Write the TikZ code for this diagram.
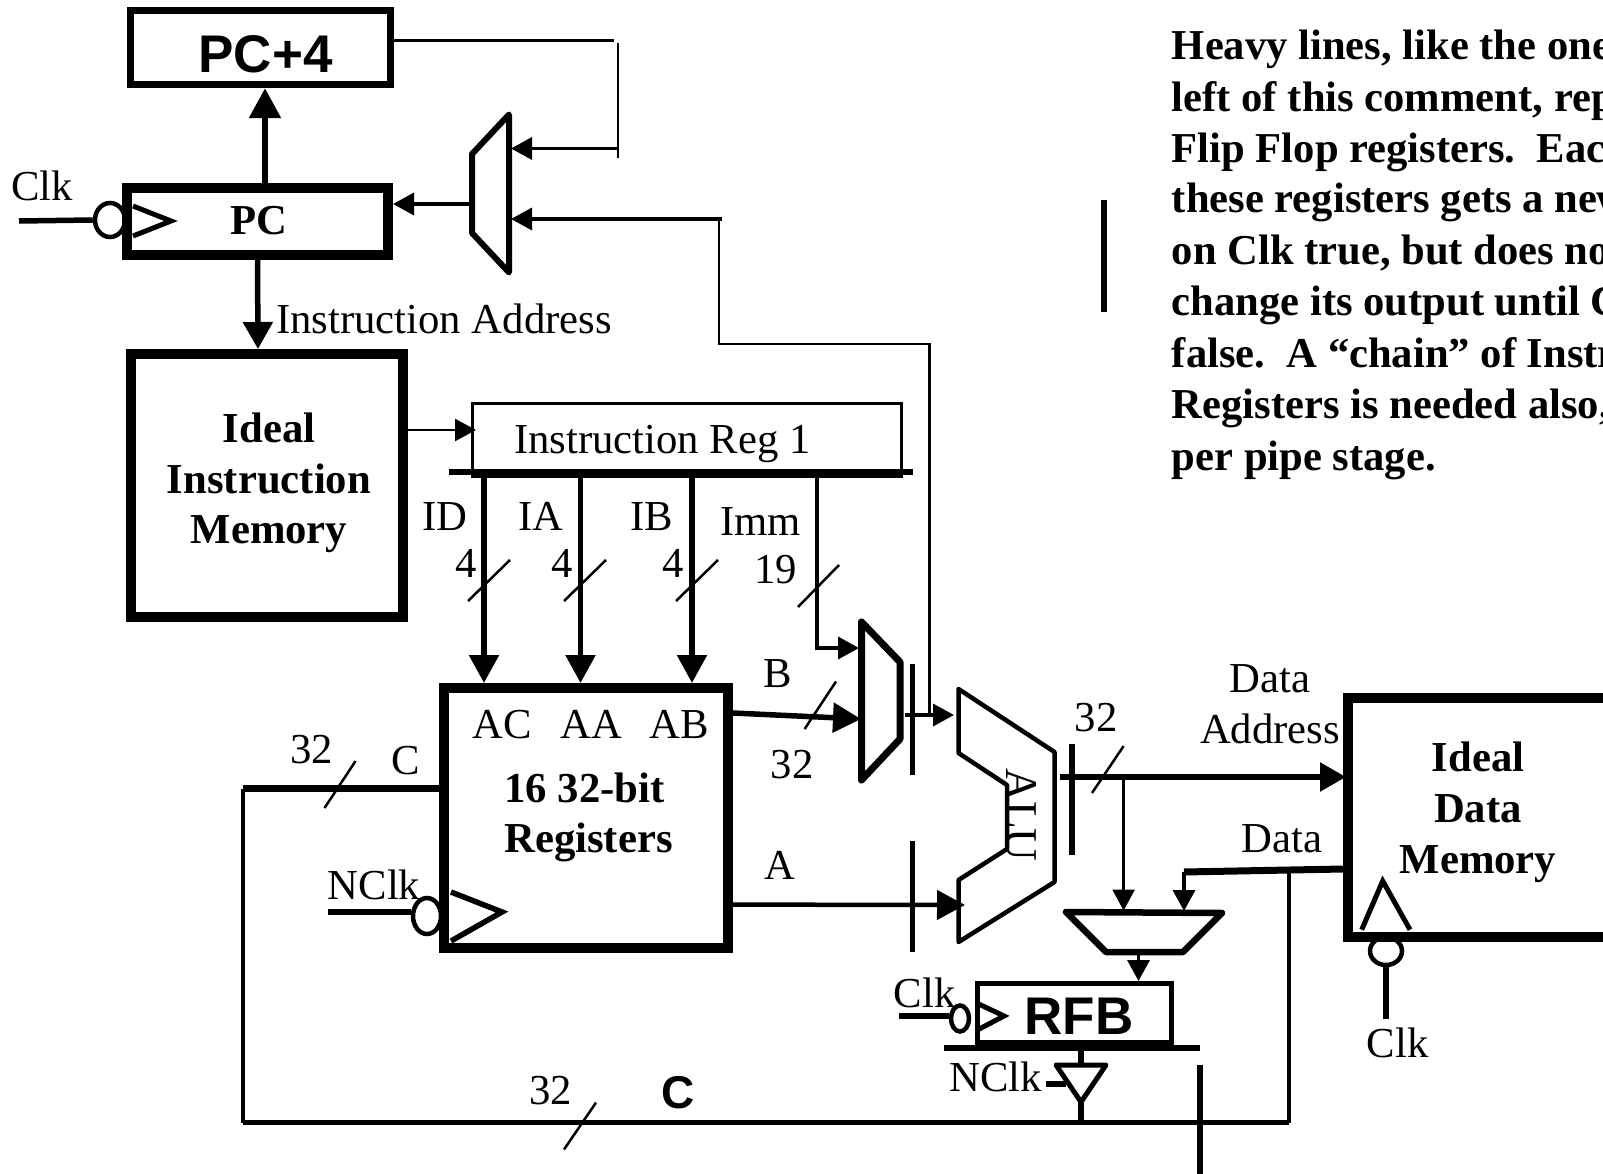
\documentclass[tikz,border=0pt]{standalone}
\usepackage{fontspec}
\setmainfont{Liberation Serif}
\newfontfamily\arialfont{Liberation Sans}
\usetikzlibrary{arrows.meta,shapes.geometric}
\tikzset{
  box/.style={draw,rectangle,inner sep=0pt,outer sep=auto},
  bubble/.style={draw,ellipse,inner sep=0pt,line width=4.5pt},
  lab/.style={anchor=base,inner sep=0pt,font=\fontsize{42.7}{51}\selectfont},
  labl/.style={anchor=base west,inner sep=0pt,font=\fontsize{42.7}{51}\selectfont},
  blab/.style={anchor=base,inner sep=0pt,font=\fontsize{42.7}{51}\selectfont\bfseries},
  note/.style={anchor=base west,inner sep=0pt,font=\fontsize{42.6}{51}\selectfont\bfseries},
  alab/.style={anchor=base,inner sep=0pt,font=\fontsize{53}{60}\selectfont\arialfont\bfseries},
  wthin/.style={line width=2.5pt},
  wmed/.style={line width=3.5pt},
  wthick/.style={line width=5.5pt},
  slash/.style={line width=2.5pt},
  shape outline/.style={line join=round,line cap=round},
  tipS/.style={-{Triangle[length=21pt,width=22pt]}},
  tipL/.style={-{Triangle[length=28pt,width=29pt]}},
}
\begin{document}
\begin{tikzpicture}[x=1pt,y=-1pt]
\clip (0,0) rectangle (1603,1174);
% --- bubbles (beneath the boxes)
\node[bubble,minimum width=30pt,minimum height=34pt] (pcbub) at (110,220) {};
\node[bubble,minimum width=28pt,minimum height=36pt] (regbub) at (427,916) {};
\node[bubble,minimum width=18pt,minimum height=26pt] (rfbbub) at (960,1018.5) {};
\node[bubble,minimum width=32pt,minimum height=28pt] (dmbub) at (1386,951) {};
% --- boxes
\node[box,line width=7pt,minimum width=260pt,minimum height=74.5pt] (pcplus) at (260.5,47.5) {};
\node[box,line width=10pt,minimum width=261pt,minimum height=67pt] (pc) at (257.5,221.5) {};
\node[box,line width=10pt,minimum width=272pt,minimum height=263pt] (imem) at (267,485.5) {};
\node[box,line width=2.5pt,minimum width=429pt,minimum height=73pt] (ireg) at (687,440) {};
\node[box,line width=10pt,minimum width=284pt,minimum height=260pt] (regs) at (586,818) {};
\node[box,line width=10pt,minimum width=400pt,minimum height=239.5pt] (dmem) at (1548,817.25) {};
\node[box,line width=5pt,minimum width=194pt,minimum height=59pt] (rfb) at (1074,1013) {};
% --- muxes and ALU
\draw[shape outline,line width=6pt] (509,114.5) -- (472,154) -- (472,233) -- (509,272.5) -- cycle;
\draw[shape outline,line width=7pt] (861.5,622) -- (900,662) -- (900,739) -- (861.5,780) -- cycle;
\draw[shape outline,line width=6.5pt] (1066,912) -- (1222,913) -- (1183,952) -- (1106,952) -- cycle;
\draw[shape outline,line width=4.5pt] (958.5,689) -- (1054.5,752) -- (1054.5,882) -- (958.5,942) -- (958.5,880) -- (1007,849) -- (1007,785) -- (958.5,753) -- cycle;
% --- clock triangles
\draw[line width=5pt,line join=miter] (133,206) -- (171,221) -- (133,236);
\draw[line width=5.5pt,line join=miter] (451,892) -- (502,912) -- (451,941);
\draw[line width=5pt,line join=miter] (976.6,1003) -- (1004,1016) -- (976.6,1030.4);
\draw[line width=5pt,line join=miter] (1361.7,929.7) -- (1382.7,881) -- (1410,929.7);
\draw[line width=5pt,line join=round] (1056,1065) -- (1106,1065) -- (1081,1102) -- cycle;
% --- named points
\coordinate (p4a) at (614,40.5);
\coordinate (p4b) at (618,43);
\coordinate (p4c) at (618,158);
\coordinate (p4d) at (618,148.5);
\coordinate (m1u) at (511,148.5);
\coordinate (m1l) at (511,219);
\coordinate (m1o) at (472,204);
\coordinate (r1) at (722,219);
\coordinate (r2) at (719,219);
\coordinate (r3) at (719,344);
\coordinate (r4) at (929.5,344);
\coordinate (r5) at (929.5,715);
\coordinate (m2o) at (905,715);
\coordinate (alub) at (954,715);
\coordinate (m2b) at (861,719);
\coordinate (alua) at (965,905);
\coordinate (imm0) at (817,472);
\coordinate (imm1) at (817,648);
\coordinate (m2i) at (859,648);
\coordinate (bar1) at (449,472);
\coordinate (bar2) at (913,472);
\coordinate (idtop) at (484,472);
\coordinate (iatop) at (580.5,472);
\coordinate (ibtop) at (692,472);
\coordinate (cl) at (243,788.6);
\coordinate (cb) at (243,1122.5);
\coordinate (cr) at (1289,1122.5);
\coordinate (dj) at (1289,872);
\coordinate (aluo) at (1060,777);
\coordinate (tap) at (1123.6,777);
\coordinate (m3a) at (1123.6,910.6);
\coordinate (d0) at (1184,872);
\coordinate (m3b) at (1184,911);
\coordinate (m3o) at (1138.5,952);
\coordinate (rb1) at (944,1048);
\coordinate (rb2) at (1200,1048);
\coordinate (clk1) at (19,221);
\coordinate (nclk1) at (328,912);
\coordinate (clk2) at (899,1016);
\coordinate (clk3) at (1386,1018.7);
\coordinate (nclk2) at (1046,1084);
\coordinate (nclk2e) at (1066,1084);
\coordinate (rftop) at (1081,1048);
\coordinate (rfbot) at (1081,1065);
\coordinate (rfdn) at (1081,1102);
\coordinate (rfj) at (1081,1122.5);
% --- connectors
\draw[wthin] (pcplus.east |- p4a) -- (p4a);
\draw[wthin] (p4b) -- (p4c);
\draw[wmed,tipS] (p4d) -- (m1u);
\draw[wmed,tipS] (m1o) -- (pc.east |- m1o);
\draw[wmed,tipS] (r1) -- (m1l);
\draw[wthin,line join=miter] (r2) -- (r3) -- (r4) -- (r5);
\draw[line width=5.5pt,-{Triangle[length=30pt,width=31pt]}] ([xshift=7.5pt]pc.north) -- ([xshift=4.5pt]pcplus.south);
\draw[line width=5.5pt,-{Triangle[length=27pt,width=29pt]}] (pc.south) -- ([xshift=-9pt]imem.north);
\draw[wthin,tipS] (imem.east |- 0,430) -- (476,430);
\draw[line width=6pt] (bar1) -- (bar2);
\draw[wthick,tipL] (idtop) -- (idtop |- regs.north);
\draw[wthick,tipL] (iatop) -- (iatop |- regs.north);
\draw[wthick,tipL] (ibtop) -- (ibtop |- regs.north);
\draw[wmed,line join=miter,tipS] (imm0) -- (imm1) -- (m2i);
\draw[wthick,tipL] (regs.east |- 0,713) -- (m2b);
\draw[line width=4.5pt,tipL] (regs.east |- 0,904.6) -- (alua);
\draw[wmed,tipS] (m2o) -- (alub);
\draw[line width=4.5pt] (912.6,664) -- (912.6,775);
\draw[line width=4.5pt] (912.6,841) -- (912.6,952);
\draw[line width=7.5pt] (regs.west |- cl) -- (cl);
\draw[line width=4.5pt,line join=miter] (cl) -- (cb);
\draw[wthick,line join=miter] (cb) -- (cr);
\draw[line width=4pt] (cr) -- (dj);
\draw[line width=5.5pt] (clk1) -- (pcbub.west);
\draw[wthick] (nclk1) -- (regbub.west |- nclk1);
\draw[wthick] (clk2) -- (rfbbub.west |- clk2);
\draw[wthick] (clk3) -- (dmbub.south);
\draw[line width=5.5pt,-{Triangle[length=26pt,width=28pt]}] (aluo) -- ([xshift=3pt]dmem.west |- aluo);
\draw[line width=5.5pt] (1072,744) -- (1072,855);
\draw[wthin,tipS] (tap) -- (m3a);
\draw[line width=7pt] (dmem.west |- 0,869) -- (d0);
\draw[wmed,tipS] (d0) -- (m3b);
\draw[wmed,tipS] (m3o) -- (m3o |- rfb.north);
\draw[wthick] (rb1) -- (rb2);
\draw[wthick] (rftop) -- (rfbot);
\draw[wthick] (rfdn) -- (rfj);
\draw[wthick] (nclk2) -- (nclk2e);
\draw[wthick] (1200,1064.5) -- (1200,1174);
\draw[line width=6pt] (1104.3,200) -- (1104.3,311.5);
% --- bus slashes
\draw[slash] (468,601) -- (510,560);
\draw[slash] (564,601) -- (606,560);
\draw[slash] (676,601) -- (718,560);
\draw[slash] (798,607) -- (839,565);
\draw[slash] (804.6,729) -- (836,681.5);
\draw[slash] (324.5,808) -- (355.6,761);
\draw[slash] (564,1149.5) -- (596,1102.6);
\draw[slash] (1092,793) -- (1123.6,746);
% --- labels
\node[alab] (tpc4) at (265.5,73) {PC+4};
\node[blab] (tpc) at (259,235) {PC};
\node[labl] (tclk1) at (11,201) {Clk};
\node[labl] (tia) at (276,333) {Instruction Address};
\node[blab] (tim1) at (269,442) {Ideal};
\node[blab] (tim2) at (269,493) {Instruction};
\node[blab] (tim3) at (269,543.5) {Memory};
\node[labl] (tir) at (514,453) {Instruction Reg 1};
\node[lab] (tid) at (445,530) {ID};
\node[lab] (tiaa) at (541,530) {IA};
\node[lab] (tib) at (652,530) {IB};
\node[labl] (timm) at (720,535) {Imm};
\node[lab] (t4a) at (466,577) {4};
\node[lab] (t4b) at (562.5,577) {4};
\node[lab] (t4c) at (673,577) {4};
\node[lab] (t19) at (775.5,583.5) {19};
\node[lab] (tb) at (777.5,687.5) {B};
\node[lab] (t32b) at (792,778) {32};
\node[lab] (ta) at (780,879) {A};
\node[lab] (tac) at (502,738) {AC};
\node[lab] (taa) at (591,738) {AA};
\node[lab] (tab) at (679.5,738) {AB};
\node[blab] (tr1) at (584.5,802) {16 32-bit};
\node[blab] (tr2) at (588.5,852.5) {Registers};
\node[lab] (t32c) at (311.5,763) {32};
\node[lab] (tc) at (406,774) {C};
\node[labl] (tnclk) at (327.5,899) {NClk};
\node[lab] (t32d) at (550.5,1104) {32};
\node[anchor=base,inner sep=0pt,font=\fontsize{46}{50}\selectfont\arialfont\bfseries] (tcc) at (678,1108) {C};
\node[inner sep=0pt,font=\fontsize{45.5}{51}\selectfont,rotate=-90] (talu) at (1021,815) {ALU};
\node[lab] (t32o) at (1096,731) {32};
\node[lab] (tda1) at (1270,692) {Data};
\node[lab] (tda2) at (1270,743.5) {Address};
\node[lab] (tdata) at (1282,852.5) {Data};
\node[blab] (tdm1) at (1478,771.5) {Ideal};
\node[blab] (tdm2) at (1478,822) {Data};
\node[blab] (tdm3) at (1478,873.5) {Memory};
\node[lab] (tclk3) at (1397.5,1057.5) {Clk};
\node[labl] (tclk2) at (893.5,1007.5) {Clk};
\node[alab] (trfb) at (1079,1034.5) {RFB};
\node[labl] (tnclk2) at (949,1091) {NClk};
% --- comment
\node[note] (n1) at (1171.7,59.3) {Heavy lines, like the one};
\node[note] (n2) at (1171.7,111.5) {left of this comment, rep};
\node[note] (n3) at (1171.7,162.5) {Flip Flop registers.\ \ Eac};
\node[note] (n4) at (1171.7,213) {these registers gets a new};
\node[note] (n5) at (1171.7,265) {on Clk true, but does no};
\node[note] (n6) at (1171.7,315) {change its output until C};
\node[note] (n7) at (1171.7,367.7) {false.\ \ A “chain” of Instr};
\node[note] (n8) at (1171.7,418.7) {Registers is needed also,};
\node[note] (n9) at (1171.7,470) {per pipe stage.};
\end{tikzpicture}
\end{document}
